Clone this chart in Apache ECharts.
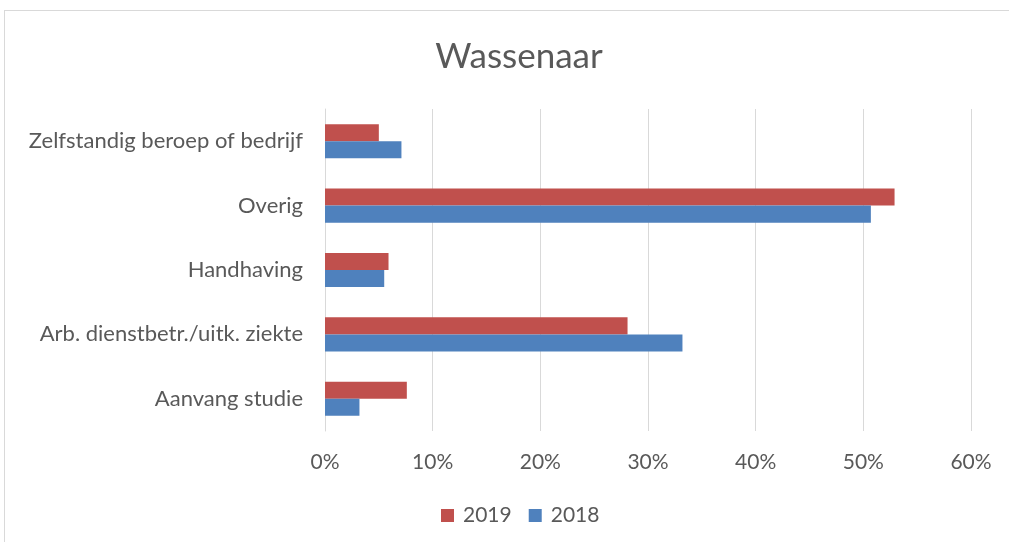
<!DOCTYPE html>
<html>
<head>
<meta charset="utf-8">
<script src="https://cdn.jsdelivr.net/npm/echarts@6/dist/echarts.min.js"></script>
<style>
html,body{margin:0;padding:0;background:#fff;}
#frame{position:absolute;left:4px;top:10px;width:1020px;height:560px;border:1px solid #d9d9d9;box-sizing:border-box;}
#c{position:absolute;left:0;top:0;width:1009px;height:542px;}
</style>
</head>
<body>
<div id="frame"></div>
<div id="c"></div>
<script>
const categories = ["Aanvang studie", "Arb. dienstbetr./uitk. ziekte", "Handhaving", "Overig", "Zelfstandig beroep of bedrijf"];
const values2019 = [7.6, 28.1, 5.9, 52.9, 5.0];
const values2018 = [3.2, 33.2, 5.5, 50.7, 7.1];
const seriesNames = ["2019", "2018"];

const font = "Lato, 'Open Sans', sans-serif";
const chart = echarts.init(document.getElementById('c'));
chart.setOption({
  animation: false,
  title: {
    text: "Wassenaar",
    left: 514,
    textAlign: 'center',
    top: 34,
    textStyle: {fontFamily: font, fontSize: 35, fontWeight: 'normal', color: '#595959'}
  },
  legend: {
    data: seriesNames,
    bottom: 11,
    left: 436,
    itemWidth: 13,
    itemHeight: 13,
    itemGap: 17,
    icon: 'rect',
    textStyle: {fontFamily: font, fontSize: 21, color: '#595959', padding: [0, 0, 0, 4]},
  },
  grid: {left: 325, right: 38, top: 109, bottom: 111, containLabel: false},
  xAxis: {
    type: 'value',
    min: 0, max: 60, interval: 10,
    axisLabel: {formatter: '{value}%', fontFamily: font, fontSize: 21, color: '#595959', margin: 21},
    splitLine: {lineStyle: {color: '#d9d9d9', width: 1}},
    axisLine: {show: false},
    axisTick: {show: false}
  },
  yAxis: {
    type: 'category',
    data: categories,
    axisLabel: {fontFamily: font, fontSize: 22, color: '#595959', margin: 22},
    axisLine: {show: true, lineStyle: {color: '#d9d9d9'}},
    axisTick: {show: false}
  },
  series: [
    {name: "2019", type: 'bar', data: values2019, itemStyle: {color: '#c0504d'}, barGap: '0%', barCategoryGap: '47%'},
    {name: "2018", type: 'bar', data: values2018, itemStyle: {color: '#4f81bd'}, barGap: '0%', barCategoryGap: '47%'}
  ]
});
</script>
</body>
</html>
